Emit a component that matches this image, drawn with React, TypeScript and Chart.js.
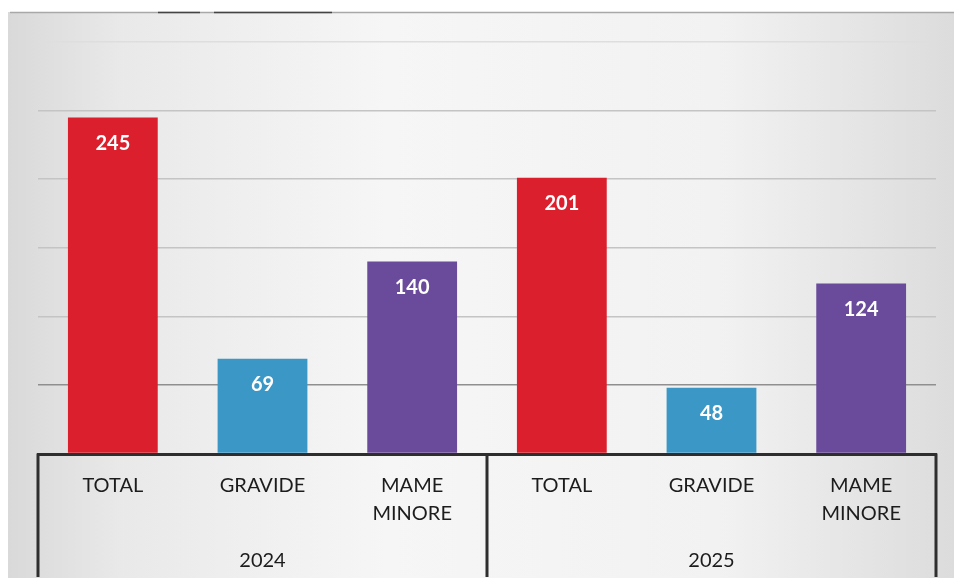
import { useEffect, useRef } from "react";
import { Chart, registerables } from "chart.js";
Chart.register(...registerables);

const categories: (string | string[])[] = ["TOTAL", "GRAVIDE", ["MAME", "MINORE"], "TOTAL", "GRAVIDE", ["MAME", "MINORE"]];
const years = ["2024", "2025"];
const values = [245, 69, 140, 201, 48, 124];
const barColors = ["#db1f2c", "#3b98c6", "#6a4b9b", "#db1f2c", "#3b98c6", "#6a4b9b"];
const yMax = 300;
const yStep = 50;

const bgPlugin = {
  id: "bgPlugin",
  beforeDraw(chart: any) {
    const { ctx, width, height } = chart;
    ctx.save();
    ctx.fillStyle = "#ffffff";
    ctx.fillRect(0, 0, width, height);
    const g = ctx.createLinearGradient(8, 0, width, 0);
    g.addColorStop(0, "#d9d9d9");
    g.addColorStop(0.12, "#e9e9e9");
    g.addColorStop(0.4, "#f6f6f6");
    g.addColorStop(0.75, "#f2f2f2");
    g.addColorStop(1, "#dcdcdc");
    ctx.fillStyle = g;
    ctx.fillRect(8, 12, width - 8, 566);
    ctx.strokeStyle = "#a8a8a8";
    ctx.lineWidth = 1.5;
    ctx.beginPath();
    ctx.moveTo(10, 12.5);
    ctx.lineTo(width, 12.5);
    ctx.stroke();
    ctx.strokeStyle = "#444";
    ctx.lineWidth = 1.5;
    ctx.beginPath();
    ctx.moveTo(158, 12.5);
    ctx.lineTo(200, 12.5);
    ctx.moveTo(214, 12.5);
    ctx.lineTo(332, 12.5);
    ctx.stroke();
    ctx.restore();
  },
};

const boxPlugin = {
  id: "boxPlugin",
  afterDraw(chart: any) {
    const { ctx, chartArea } = chart;
    const { left, right, bottom } = chartArea;
    const mid = (left + right) / 2;
    ctx.save();
    ctx.strokeStyle = "#2e2e2e";
    ctx.lineWidth = 3;
    ctx.beginPath();
    ctx.moveTo(left - 1, bottom + 1);
    ctx.lineTo(right + 1, bottom + 1);
    [left, mid, right].forEach((x) => {
      ctx.moveTo(x, bottom);
      ctx.lineTo(x, 577);
    });
    ctx.stroke();
    ctx.restore();
  },
};

const valuePlugin = {
  id: "valuePlugin",
  afterDatasetsDraw(chart: any) {
    const { ctx } = chart;
    const meta = chart.getDatasetMeta(0);
    ctx.save();
    ctx.fillStyle = "#ffffff";
    ctx.font = "bold 20px Lato";
    ctx.textAlign = "center";
    ctx.textBaseline = "middle";
    meta.data.forEach((bar: any, i: number) => {
      ctx.fillText(String(values[i]), bar.x, bar.y + 26);
    });
    ctx.restore();
  },
};

export default function App() {
  const ref = useRef<HTMLCanvasElement>(null);
  useEffect(() => {
    if (!ref.current) return;
    const chart = new Chart(ref.current, {
      type: "bar",
      data: {
        labels: categories as any,
        datasets: [
          {
            data: values,
            backgroundColor: barColors,
            categoryPercentage: 1,
            barPercentage: 0.6,
            xAxisID: "x",
          },
        ],
      },
      options: {
        animation: false,
        responsive: true,
        maintainAspectRatio: false,
        layout: { padding: { left: 38, right: 18, top: 42, bottom: 0 } },
        plugins: { legend: { display: false }, tooltip: { enabled: false } },
        scales: {
          y: {
            min: 0,
            max: yMax,
            ticks: { display: false, stepSize: yStep },
            border: { display: false },
            grid: {
              drawTicks: false,
              color: (c: any) => (c.tick.value === 50 ? "#8f8f8f" : c.tick.value === 300 ? "#dedede" : "#c4c4c4"),
              lineWidth: 1.5,
            },
          },
          x: {
            type: "category",
            position: "bottom",
            grid: { display: false, drawTicks: false },
            border: { display: false },
            afterFit: (s: any) => {
              s.height = 73.5;
            },
            ticks: {
              color: "#1c1c1c",
              font: { family: "Lato", size: 20, lineHeight: 1.4 },
              padding: 18,
              maxRotation: 0,
              autoSkip: false,
            },
          },
          x2: {
            type: "category",
            position: "bottom",
            labels: years,
            offset: true,
            grid: { display: false, drawTicks: false },
            border: { display: false },
            afterFit: (s: any) => {
              s.height = 55;
            },
            ticks: {
              color: "#1c1c1c",
              font: { family: "Lato", size: 20, lineHeight: 1.4 },
              padding: 20,
              maxRotation: 0,
            },
          },
        },
      },
      plugins: [bgPlugin, boxPlugin, valuePlugin],
    } as any);
    return () => chart.destroy();
  }, []);
  return (
    <div style={{ position: "absolute", left: 0, top: 0, width: 954, height: 582 }}>
      <canvas ref={ref} />
    </div>
  );
}
